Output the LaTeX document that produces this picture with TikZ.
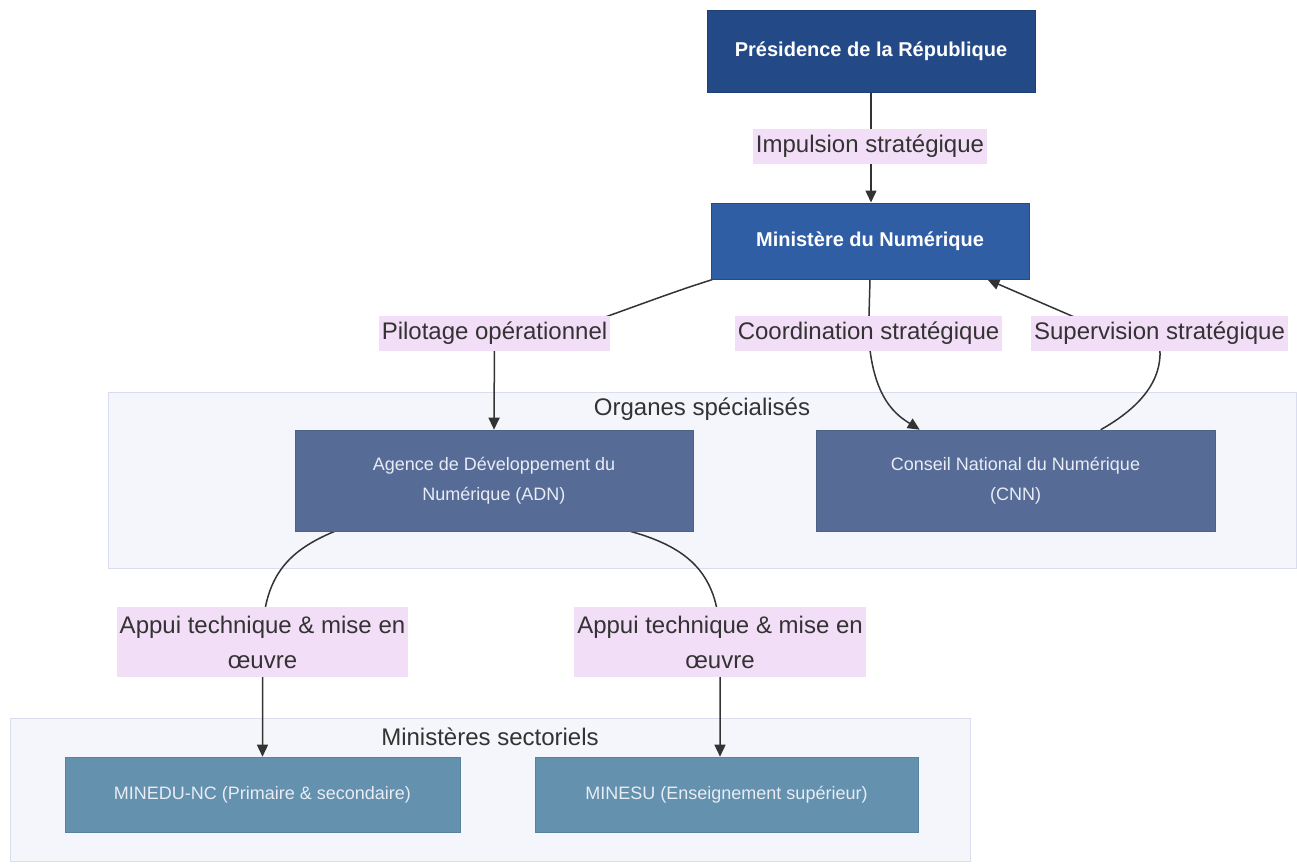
\documentclass[tikz,border=0pt]{standalone}
\usepackage{fontspec}
\setmainfont{Liberation Sans}
\usetikzlibrary{arrows.meta,calc}
\definecolor{presC}{RGB}{35,74,135}
\definecolor{minC}{RGB}{47,94,165}
\definecolor{orgC}{RGB}{86,108,150}
\definecolor{secC}{RGB}{99,145,174}
\definecolor{labC}{RGB}{243,222,247}
\definecolor{clFill}{RGB}{245,246,252}
\definecolor{clDraw}{RGB}{218,221,238}
\definecolor{txtC}{RGB}{51,51,51}
\definecolor{boxTxt}{RGB}{232,236,245}
\pgfdeclarelayer{bg}
\pgfdeclarelayer{edges}
\pgfsetlayers{bg,edges,main}
\tikzset{
  box/.style={rectangle, inner sep=0pt, align=center, text=white},
  presbox/.style={box, fill=presC, draw=presC!85!black, line width=1pt,
    font=\fontsize{20}{24}\selectfont\bfseries},
  minbox/.style={box, fill=minC, draw=minC!80!black, line width=1pt,
    font=\fontsize{20}{24}\selectfont\bfseries},
  orgbox/.style={box, fill=orgC, draw=orgC!90!black, line width=0.6pt, text=boxTxt,
    font=\fontsize{18}{30}\selectfont},
  secbox/.style={box, fill=secC, draw=secC!90!black, line width=0.6pt, text=boxTxt,
    font=\fontsize{18}{30}\selectfont},
  lab/.style={rectangle, fill=labC, inner xsep=3pt, inner ysep=0pt, text=txtC,
    align=center, font=\fontsize{24}{35}\selectfont},
  edge/.style={draw=txtC, line width=1.5pt, -{Triangle[length=12pt,width=11pt]}},
  cluster/.style={rectangle, fill=clFill, draw=clDraw, line width=1pt, inner sep=0pt},
  cltitle/.style={text=txtC, inner sep=0pt, font=\fontsize{24}{28}\selectfont},
}
\begin{document}
\begin{tikzpicture}[x=1pt,y=-1pt]
\useasboundingbox (0,0) rectangle (1297,863);

% clusters
\begin{pgfonlayer}{bg}
\fill[white] (0,0) rectangle (1297,863);
\node[cluster, minimum width=1188, minimum height=176] (orgcl) at (702,480) {};
\node[cluster, minimum width=960, minimum height=143] (seccl) at (490,789.5) {};
\end{pgfonlayer}
\node[cltitle] (orgt) at (702,409) {Organes spécialisés};
\node[cltitle] (sect) at (490,737) {Ministères sectoriels};

% main nodes
\node[presbox, minimum width=328, minimum height=82] (pres) at (871,51) {Présidence de la République};
\node[minbox, minimum width=318, minimum height=76] (min) at (870,241) {Ministère du Numérique};
\node[orgbox, minimum width=398, minimum height=101] (adn) at (494,480.5) {Agence de Développement du\\Numérique (ADN)};
\node[orgbox, minimum width=399, minimum height=101] (cnn) at (1015.5,480.5) {Conseil National du Numérique\\(CNN)};
\node[secbox, minimum width=395, minimum height=75] (minedu) at (262.5,794.5) {MINEDU-NC (Primaire \& secondaire)};
\node[secbox, minimum width=383, minimum height=75] (minesu) at (726.5,794.5) {MINESU (Enseignement supérieur)};

% edge labels
\node[lab, minimum height=35] (limp) at (870,146) {Impulsion stratégique};
\node[lab, minimum height=35] (lpil) at (494.5,333) {Pilotage opérationnel};
\node[lab, minimum height=35] (lcoo) at (868.5,333) {Coordination stratégique};
\node[lab, minimum height=35] (lsup) at (1159.5,333) {Supervision stratégique};
\node[lab, minimum height=70] (lap1) at (262.5,642) {Appui technique \& mise en\\œuvre};
\node[lab, minimum height=70] (lap2) at (720,642) {Appui technique \& mise en\\œuvre};

% edges
\begin{pgfonlayer}{edges}
\draw[edge] (pres.south) -- (pres.south |- min.north);
\draw[edge] ($(min.south west)+(2,0)$) .. controls (680,290) .. ($(lpil.north east)+(-6,2)$)
  -- (lpil.center) -- (adn.north);
\draw[edge] (min.south) -- (lcoo.center) .. controls (872,400) and (898,416) .. ($(cnn.north west)+(104,0)$);
\draw[edge] ($(cnn.north west)+(285,0)$) .. controls (1150,402) and (1163,372) .. ($(lsup.center)+(0,12)$)
  -- ($(lsup.north west)+(44,2)$) -- ($(min.south east)+(-42,0)$);
\draw[edge] ($(adn.south west)+(40,0)$) .. controls (290,550) and (262,575) .. (lap1.center) -- (minedu.north);
\draw[edge] ($(adn.south east)+(-63,0)$) .. controls (690,548) and (720,575) .. (lap2.center) -- (lap2.center |- minesu.north);
\end{pgfonlayer}
\end{tikzpicture}
\end{document}
